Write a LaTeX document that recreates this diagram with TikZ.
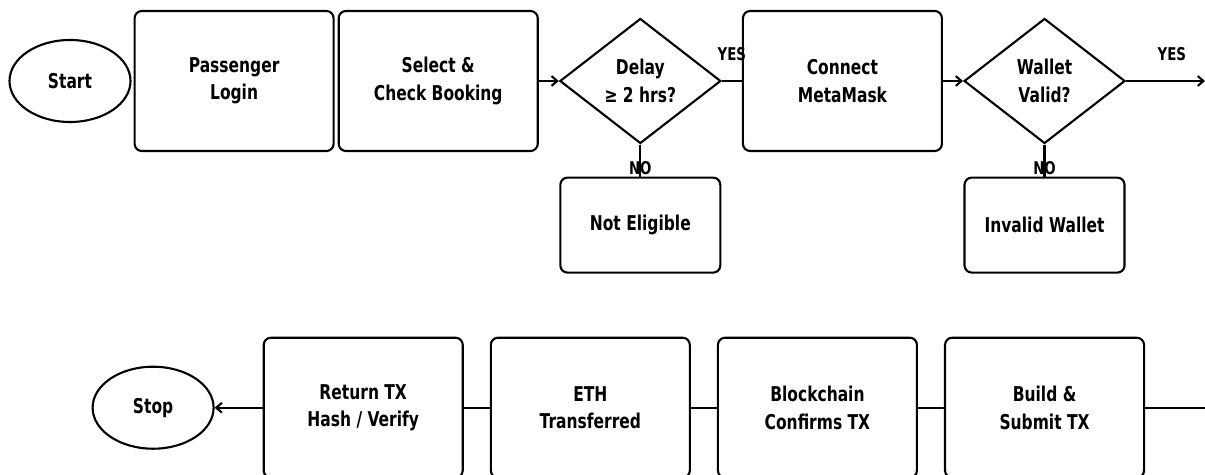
\documentclass[tikz,border=0pt]{standalone}
\usepackage{fontspec}
\setmainfont{DejaVu Sans}[FakeStretch=0.76]
\usetikzlibrary{positioning,shapes.geometric,arrows.meta}

\tikzset{
    boxfont/.style={font=\fontsize{14.5}{19.5}\selectfont\bfseries},
    flowline/.style={line width=1.5pt},
    flowarrow/.style={flowline,-{Straight Barb[length=4pt,width=7pt]}},
    terminal/.style={draw,ellipse,line width=1.5pt,inner sep=0pt,minimum width=3.025cm,minimum height=2.05cm,boxfont},
    process/.style={draw,rounded corners=0.18cm,line width=1.5pt,align=center,minimum width=4.975cm,minimum height=3.5cm,boxfont},
    decision/.style={draw,diamond,line width=1.5pt,inner sep=0pt,align=center,minimum width=4.025cm,minimum height=3.125cm,boxfont},
    outcome/.style={process,minimum width=4cm,minimum height=2.375cm},
    branch/.style={font=\fontsize{12.5}{14}\selectfont\bfseries,inner sep=1pt},
}

\begin{document}
\begin{tikzpicture}
    \useasboundingbox (0,0) rectangle (30.125,-11.875);
    \coordinate (rim) at (30.125,0);

    \node[terminal] (start) at (1.75,-2.025) {Start};
    \node[process, right=0.05cm of start] (login) {Passenger\\Login};
    \node[process, right=0.075cm of login] (booking) {Select \&\\Check Booking};
    \node[decision, right=0.5cm of booking] (delay) {Delay\\≥ 2 hrs?};
    \node[process, right=0.5cm of delay] (metamask) {Connect\\MetaMask};
    \node[decision, right=0.5cm of metamask] (wallet) {Wallet\\Valid?};
    \node[outcome, below=0.8cm of delay] (noteligible) {Not Eligible};
    \node[outcome, below=0.8cm of wallet] (invalid) {Invalid Wallet};

    \node[process, below=1.575cm of invalid] (submit) {Build \&\\Submit TX};
    \node[process, left=0.65cm of submit] (confirm) {Blockchain\\Confirms TX};
    \node[process, left=0.65cm of confirm] (transfer) {ETH\\Transferred};
    \node[process, left=0.65cm of transfer] (receipt) {Return TX\\Hash / Verify};
    \node[terminal, left=1.2cm of receipt] (stop) {Stop};

    \coordinate (walletout) at (rim |- wallet);
    \coordinate (submitin) at (rim |- submit);

    \draw[flowarrow] (booking.east) -- (delay.west);
    \draw[flowline] (delay.east) -- node[branch, above=0.45cm] {YES} (metamask.west);
    \draw[flowline] (delay.south) -- node[branch, pos=0.75] {NO} (noteligible.north);
    \draw[flowarrow] (metamask.east) -- (wallet.west);
    \draw[flowarrow] (wallet.east) -- node[branch, pos=0.58, above=0.45cm] {YES} (walletout);
    \draw[flowline] (wallet.south) -- node[branch, pos=0.75] {NO} (invalid.north);

    \draw[flowline] (submitin) -- (submit.east);
    \draw[flowline] (submit.west) -- (confirm.east);
    \draw[flowline] (confirm.west) -- (transfer.east);
    \draw[flowline] (transfer.west) -- (receipt.east);
    \draw[flowarrow] (receipt.west) -- (stop.east);
\end{tikzpicture}
\end{document}
